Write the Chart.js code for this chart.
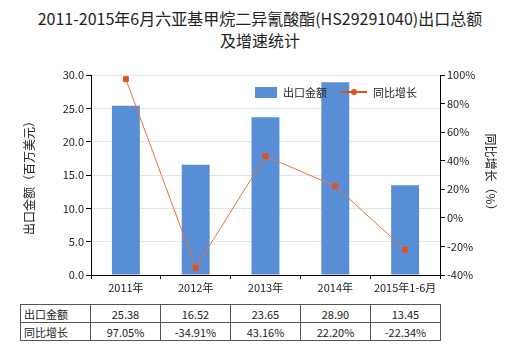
<!DOCTYPE html>
<html>
<head>
<meta charset="utf-8">
<script src="https://cdn.jsdelivr.net/npm/chart.js@4/dist/chart.umd.min.js"></script>
<style>
  body { margin: 0; width: 520px; height: 350px; background: #fff; position: relative; overflow: hidden;
    font-family: 'Noto Sans CJK SC', sans-serif; color: #222; }
  .title { position: absolute; top: 7px; left: 0; width: 520px; text-align: center; font-size: 16px; line-height: 22px; }
  .wrap { position: absolute; left: 0; top: 60px; width: 520px; height: 240px; }
  .legend { position: absolute; top: 84px; left: 255px; font-size: 11px; display: flex; align-items: center; }
  .legend .box { width: 22px; height: 11px; background: #588ED5; margin-right: 6px; }
  .legend .ln { width: 26px; height: 2px; background: #E0521E; margin: 0 6px 0 14px; position: relative; }
  .legend .ln::after { content: ''; position: absolute; left: 10px; top: -2px; width: 6px; height: 6px; border-radius: 3px; background: #E0521E; }
  table.data { position: absolute; left: 20px; top: 304px; border-collapse: collapse; font-size: 11px; }
  table.data td { border: 1px solid #555; height: 16px; padding: 1px 0 0 0; text-align: center; width: 69px; }
  table.data td.lbl { text-align: left; padding-left: 3px; width: 66px; }
</style>
</head>
<body>
<div class="title">2011-2015年6月六亚基甲烷二异氰酸酯(HS29291040)出口总额<br>及增速统计</div>
<div class="wrap"><canvas id="chart" width="520" height="240"></canvas></div>
<div class="legend"><span class="box"></span>出口金额<span class="ln"></span>同比增长</div>
<table class="data" id="dataTable"></table>
<script>
const categories = ['2011年', '2012年', '2013年', '2014年', '2015年1-6月'];
const exportValues = [25.38, 16.52, 23.65, 28.90, 13.45];
const growthRates = [97.05, -34.91, 43.16, 22.20, -22.34];
const valueLabels = ['25.38', '16.52', '23.65', '28.90', '13.45'];
const growthLabels = ['97.05%', '-34.91%', '43.16%', '22.20%', '-22.34%'];

const tickFont = { family: "'Noto Sans CJK SC', sans-serif", size: 11 };

function buildTable() {
  const table = document.getElementById('dataTable');
  const rows = [['出口金额', valueLabels], ['同比增长', growthLabels]];
  rows.forEach(([label, vals]) => {
    const tr = document.createElement('tr');
    const th = document.createElement('td');
    th.className = 'lbl';
    th.textContent = label;
    tr.appendChild(th);
    vals.forEach((v) => {
      const td = document.createElement('td');
      td.textContent = v;
      tr.appendChild(td);
    });
    table.appendChild(tr);
  });
}
buildTable();

new Chart(document.getElementById('chart'), {
  data: {
    labels: categories,
    datasets: [
      {
        type: 'line',
        label: '同比增长',
        data: growthRates,
        yAxisID: 'y1',
        borderColor: '#E8733C',
        backgroundColor: '#E0521E',
        borderWidth: 1,
        pointStyle: 'rect',
        pointRadius: 3.5,
        pointBorderColor: '#E0521E',
        pointHoverRadius: 3.5,
        tension: 0,
        order: 0,
      },
      {
        type: 'bar',
        label: '出口金额',
        data: exportValues,
        yAxisID: 'y',
        backgroundColor: '#588ED5',
        barPercentage: 0.4,
        categoryPercentage: 1,
        order: 1,
      },
    ],
  },
  options: {
    responsive: false,
    animation: false,
    layout: { padding: { top: 15, left: 0, right: 0, bottom: 0 } },
    plugins: { legend: { display: false }, tooltip: { enabled: false } },
    scales: {
      x: {
        grid: { drawOnChartArea: false, tickLength: 4, color: '#000' },
        border: { color: '#000' },
        ticks: { color: '#222', font: tickFont, maxRotation: 0, padding: 2 },
        afterFit: (s) => { s.height = 25; },
      },
      y: {
        position: 'left',
        min: 0,
        max: 30,
        ticks: { stepSize: 5, color: '#222', font: tickFont, padding: 2, callback: (v) => v.toFixed(1) },
        grid: { color: '#e4e4e4', tickColor: '#000', tickLength: 5 },
        border: { color: '#000' },
        title: { display: true, text: '出口金额（百万美元）', color: '#222', font: { ...tickFont, size: 12 }, padding: { top: 22 } },
        afterFit: (s) => { s.width = 91; },
      },
      y1: {
        position: 'right',
        min: -40,
        max: 100,
        ticks: { stepSize: 20, color: '#222', font: tickFont, padding: 2, callback: (v) => `${v}%` },
        grid: { drawOnChartArea: false, tickColor: '#000', tickLength: 5 },
        border: { color: '#000' },
        title: { display: true, text: '同比增长（%）', color: '#222', font: { ...tickFont, size: 12 }, padding: { top: 22 } },
        afterFit: (s) => { s.width = 80; },
      },
    },
  },
});
</script>
</body>
</html>
